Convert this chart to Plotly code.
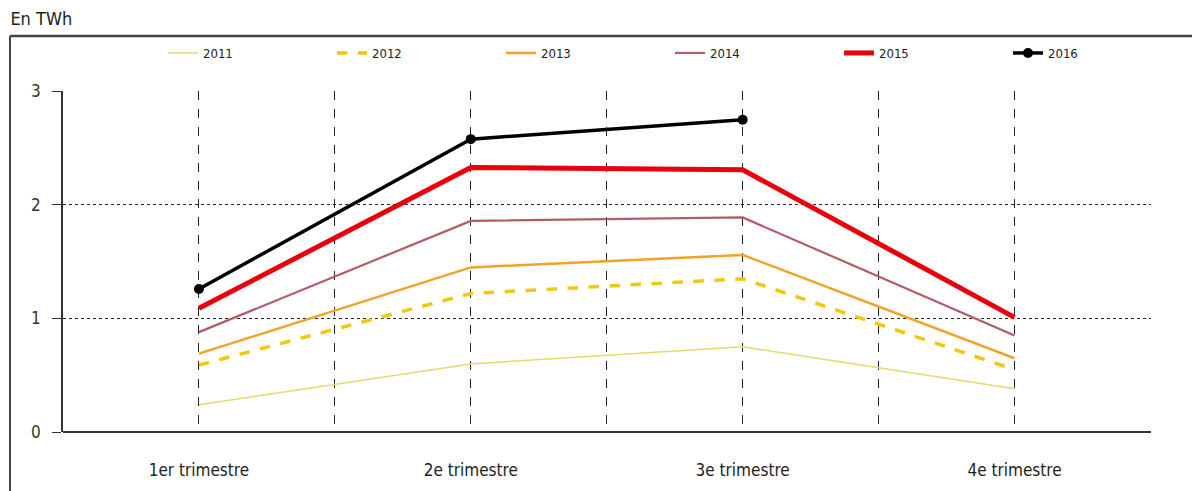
import plotly.graph_objects as go

quarters = ["1er trimestre", "2e trimestre", "3e trimestre", "4e trimestre"]
x_pos = [0, 1, 2, 3]

v2011 = [0.24, 0.60, 0.75, 0.38]
v2012 = [0.59, 1.22, 1.35, 0.55]
v2013 = [0.69, 1.45, 1.56, 0.65]
v2014 = [0.88, 1.86, 1.89, 0.85]
v2015 = [1.09, 2.33, 2.31, 1.01]
v2016 = [1.26, 2.58, 2.75]

FONT = "Liberation Sans Narrow, DejaVu Sans Condensed, Arial Narrow, sans-serif"

# the page adds an 8px body margin, so figure pixels = screen pixels - 8
OFF = 8
W, H = 1200, 491
L, R, T, B = 63 - OFF, 57, 91 - OFF, 67
PW, PH = W - L - R, H - T - B


def px_x(px):
    return (px - OFF - L) / PW


def px_y(py):
    return (H - B - (py - OFF)) / PH


series = [
    ("2011", v2011, "#e8d96a", 1.5, "solid"),
    ("2012", v2012, "#f2c80f", 3.5, "dash"),
    ("2013", v2013, "#f0a328", 2.5, "solid"),
    ("2014", v2014, "#b35c63", 2.2, "solid"),
    ("2015", v2015, "#e8000b", 5, "solid"),
]

fig = go.Figure()
for name, vals, color, width, dash in series:
    fig.add_trace(go.Scatter(
        x=x_pos, y=vals, name=name, mode="lines",
        line=dict(color=color, width=width, dash=dash),
    ))

fig.add_trace(go.Scatter(
    x=x_pos[:len(v2016)], y=v2016, name="2016", mode="lines+markers",
    line=dict(color="#000000", width=3.5),
    marker=dict(size=10, color="#000000"),
))

# tick positions every half quarter for the dashed grid, labels only on quarters
tick_vals = [i * 0.5 for i in range(8)]
tick_text = [quarters[int(t)] if t == int(t) else "" for t in tick_vals]

fig.update_xaxes(
    range=[-0.5, 3.502], tickvals=tick_vals, ticktext=tick_text,
    showgrid=True, gridcolor="#222222", griddash="dash", gridwidth=1,
    showline=False, zeroline=False, ticks="",
    ticklabelstandoff=26,
    tickfont=dict(family=FONT, size=17, color="#222222"),
)
fig.update_yaxes(
    range=[0, 3.004], tickvals=[0, 1, 2, 3],
    showgrid=True, gridcolor="#222222", griddash="dot", gridwidth=1,
    showline=True, linecolor="#333333", linewidth=1.5,
    zeroline=True, zerolinecolor="#333333", zerolinewidth=2,
    ticks="outside", ticklen=9, tickcolor="#333333",
    ticklabelstandoff=8,
    tickfont=dict(family=FONT, size=17, color="#333333"),
)

# outer frame: top and left edges
fig.add_shape(type="line", xref="paper", yref="paper",
              x0=px_x(10), x1=px_x(W + OFF), y0=px_y(36), y1=px_y(36),
              line=dict(color="#444444", width=2.5))
fig.add_shape(type="line", xref="paper", yref="paper",
              x0=px_x(10), x1=px_x(10), y0=px_y(36), y1=px_y(H + OFF),
              line=dict(color="#444444", width=2))

fig.update_layout(
    width=W, height=H,
    margin=dict(l=L, r=R, t=T, b=B, autoexpand=False),
    plot_bgcolor="white", paper_bgcolor="white",
    title=dict(text="En TWh", xref="container", x=0.002, xanchor="left",
               yref="container", y=1 - 11 / H, yanchor="middle",
               font=dict(family=FONT, size=18, color="#222222")),
    legend=dict(orientation="h", x=px_x(163), xanchor="left", y=px_y(53), yanchor="middle",
                entrywidth=124, entrywidthmode="pixels",
                font=dict(family=FONT, size=13, color="#222222"),
                bgcolor="rgba(0,0,0,0)"),
    showlegend=True,
)

fig.write_html("out.html")
